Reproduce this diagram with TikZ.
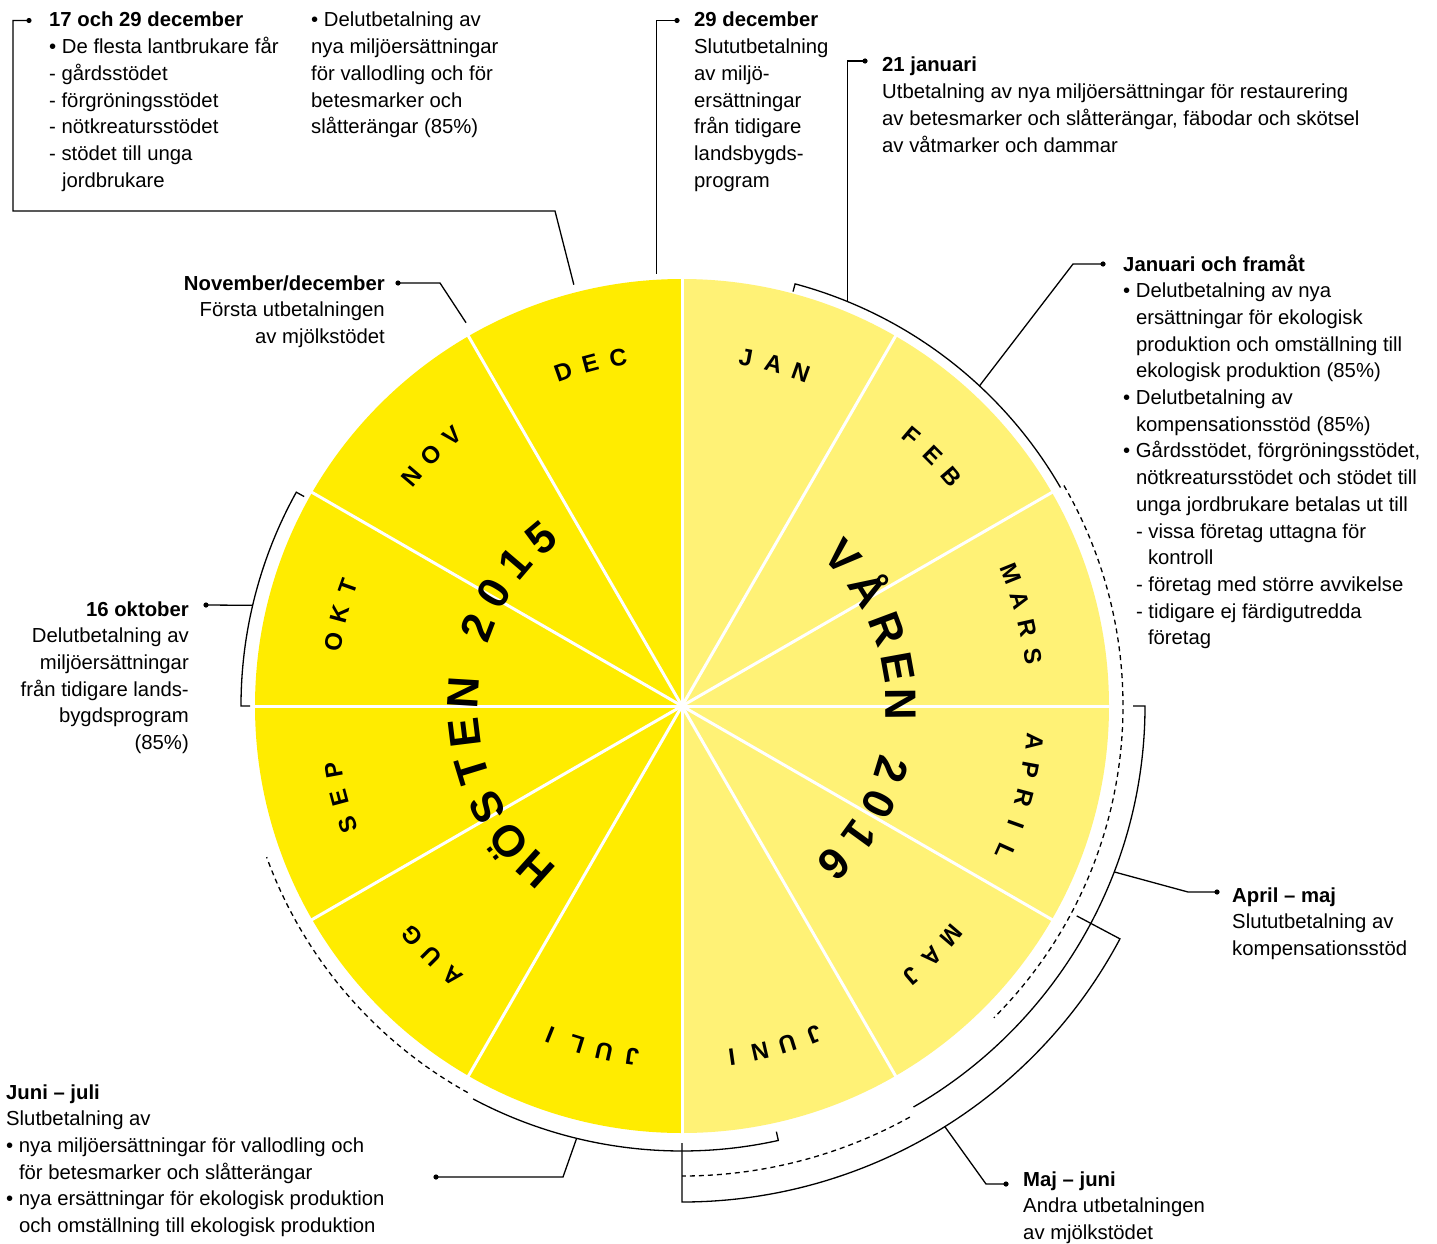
\documentclass[tikz,border=0pt]{standalone}
\usepackage{fontspec}
\setmainfont{Liberation Sans}
\usepackage{xcolor}
\definecolor{autumn}{RGB}{255,236,0}
\definecolor{spring}{RGB}{255,242,118}
\newcommand{\bulletind}{\hspace*{12.8pt}}
\newcommand{\dashind}{\hspace*{24.8pt}}
\tikzset{
    info-text/.style = {inner sep=0pt, anchor=base west, font=\fontsize{20.3}{26.7}\selectfont},
    info-text-right/.style = {info-text, anchor=base east},
    month-letter/.style = {inner sep=0pt, anchor=base, font=\fontsize{24}{24}\selectfont\bfseries},
    season-letter/.style = {inner sep=0pt, anchor=base, font=\fontsize{44}{44}\selectfont\bfseries},
    pay-line/.style = {line width=1.3pt},
    pay-later/.style = {line width=1.3pt, dash pattern=on 5pt off 4pt},
    pin-dot/.style = {fill=black},
}

\begin{document}
\begin{tikzpicture}[x=1pt, y=1pt]
\fill[white] (0,0) rectangle (1437,-1244);
\useasboundingbox (0,0) rectangle (1437,-1244);

\begin{scope}[shift={(682,-706)}]
\fill[autumn] (0,0) -- (90:427) arc[start angle=90, end angle=270, radius=427] -- cycle;
\fill[spring] (0,0) -- (-90:427) arc[start angle=-90, end angle=90, radius=427] -- cycle;
\foreach \a in {0,30,...,330}
    \draw[white, line width=3pt] (0,0) -- (\a:428);

\foreach \letters/\mid/\n [count=\k] in {{J,A,N}/75/3, {F,E,B}/45/3, {M,A,R,S}/15/4, {A,P,R,I,L}/-15/5, {M,A,J}/-45/3, {J,U,N,I}/-75/4, {J,U,L,I}/-105/4, {A,U,G}/-135/3, {S,E,P}/-165/3, {O,K,T}/165/3, {N,O,V}/135/3, {D,E,C}/105/3}{
    \foreach \ch [count=\i] in \letters{
        \node[month-letter, rotate={\mid+((\n+1)/2-\i)*4.6-90}] (month-\k-\i) at ({\mid+((\n+1)/2-\i)*4.6}:346) {\ch};
    }
}

\foreach \ch/\a [count=\i] in {H/228, Ö/218, S/207.5, T/197, E/187, N/176.5, 2/159, 0/149, 1/139.5, 5/130}
    \node[season-letter, rotate=\a-90] (autumn-\i) at (\a:204) {\ch};
\foreach \ch/\a [count=\i] in {V/43, Å/32, R/20.5, E/10.3, N/0.5, 2/-17, 0/-26.5, 1/-36, 6/-46}
    \node[season-letter, rotate=\a-90] (spring-\i) at (\a:204) {\ch};

\draw[pay-line] (75:429) -- (75:437) arc[start angle=75, end angle=30, radius=437];
\draw[pay-later] (30:441) arc[start angle=30, end angle=-45, radius=441];
\draw[pay-line] (0:451) -- (0:463) arc[start angle=0, end angle=-60, radius=463];
\draw[pay-later] (-61:470) arc[start angle=-61, end angle=-90, radius=470];
\draw[pay-line] (-28:447) -- (-28:496) arc[start angle=-28, end angle=-90, radius=496] -- (-90:437);
\draw[pay-line] (-77.5:436) -- (-77.5:445) arc[start angle=-77.5, end angle=-118, radius=445];
\draw[pay-later] (-119:442) arc[start angle=-119, end angle=-160, radius=442];
\draw[pay-line] (151:432) -- (151:441) arc[start angle=151, end angle=180, radius=441] -- (180:432);

\coordinate (end-a) at (104.4:435);
\coordinate (end-c) at (93.4:433);
\coordinate (end-d) at (67.7:437);
\coordinate (end-e) at (47.1:437);
\coordinate (end-f) at (119.4:440);
\coordinate (end-g) at (166.8:441);
\coordinate (end-h) at (-21:463);
\coordinate (end-i) at (-58:496);
\coordinate (end-j) at (-103.7:445);
\end{scope}

\node[info-text] (dec-early) at (49,-27) {\begin{minipage}[t]{280pt}
\textbf{17 och 29 december}\\
• De flesta lantbrukare får\\
- gårdsstödet\\
- förgröningsstödet\\
- nötkreatursstödet\\
- stödet till unga\\
\bulletind jordbrukare
\end{minipage}};
\node[info-text] (dec-part) at (311,-27) {\begin{minipage}[t]{260pt}
• Delutbetalning av\\
nya miljöersättningar\\
för vallodling och för\\
betesmarker och\\
slåtterängar (85\%)
\end{minipage}};
\node[info-text] (dec-final) at (694,-27) {\begin{minipage}[t]{200pt}
\textbf{29 december}\\
Slututbetalning\\
av miljö-\\
ersättningar\\
från tidigare\\
landsbygds-\\
program
\end{minipage}};
\node[info-text] (jan-21) at (882,-72) {\begin{minipage}[t]{540pt}
\textbf{21 januari}\\
Utbetalning av nya miljöersättningar för restaurering\\
av betesmarker och slåtterängar, fäbodar och skötsel\\
av våtmarker och dammar
\end{minipage}};
\node[info-text] (jan-on) at (1123,-271) {\begin{minipage}[t]{330pt}
\textbf{Januari och framåt}\\
• Delutbetalning av nya\\
\bulletind ersättningar för ekologisk\\
\bulletind produktion och omställning till\\
\bulletind ekologisk produktion (85\%)\\
• Delutbetalning av\\
\bulletind kompensationsstöd (85\%)\\
• Gårdsstödet, förgröningsstödet,\\
\bulletind nötkreatursstödet och stödet till\\
\bulletind unga jordbrukare betalas ut till\\
\bulletind - vissa företag uttagna för\\
\dashind kontroll\\
\bulletind - företag med större avvikelse\\
\bulletind - tidigare ej färdigutredda\\
\dashind företag
\end{minipage}};
\node[info-text-right] (nov-dec) at (385,-290) {\begin{minipage}[t]{300pt}\raggedleft
\textbf{November/december}\\
Första utbetalningen\\
av mjölkstödet
\end{minipage}};
\node[info-text-right] (okt-16) at (189,-616) {\begin{minipage}[t]{200pt}\raggedleft
\textbf{16 oktober}\\
Delutbetalning av\\
miljöersättningar\\
från tidigare lands-\\
bygdsprogram\\
(85\%)
\end{minipage}};
\node[info-text] (apr-maj) at (1232,-902) {\begin{minipage}[t]{200pt}
\textbf{April – maj}\\
Slututbetalning av\\
kompensationsstöd
\end{minipage}};
\node[info-text] (maj-jun) at (1023,-1186) {\begin{minipage}[t]{240pt}
\textbf{Maj – juni}\\
Andra utbetalningen\\
av mjölkstödet
\end{minipage}};
\node[info-text] (jun-jul) at (6,-1099) {\begin{minipage}[t]{420pt}
\textbf{Juni – juli}\\
Slutbetalning av\\
• nya miljöersättningar för vallodling och\\
\bulletind för betesmarker och slåtterängar\\
• nya ersättningar för ekologisk produktion\\
\bulletind och omställning till ekologisk produktion
\end{minipage}};

\coordinate (dot-a) at (29,-20.5);
\coordinate (dot-c) at (677,-20.5);
\coordinate (dot-d) at (865,-61);
\coordinate (dot-e) at (1103,-264);
\coordinate (dot-f) at (398,-283);
\coordinate (dot-g) at (206,-605);
\coordinate (dot-h) at (1217,-892);
\coordinate (dot-i) at (1006,-1184);
\coordinate (dot-j) at (436,-1177);
\foreach \d in {a,c,d,e,f,g,h,i,j}
    \fill[pin-dot] (dot-\d) circle[radius=2.6];

\draw[pay-line] (dot-a) -- ++(-16,0) |- (555,-211) -- (end-a);
\draw[pay-line] (dot-c) -| (end-c);
\draw[pay-line] (dot-d) -| (end-d);
\draw[pay-line] (dot-e) -- ++(-30,0) -- (end-e);
\draw[pay-line] (dot-f) -- ++(42,0) -- (end-f);
\draw[pay-line] (dot-g) -- (end-g);
\draw[pay-line] (dot-h) -- ++(-29,0) -- (end-h);
\draw[pay-line] (dot-i) -- ++(-20,0) -- (end-i);
\draw[pay-line] (dot-j) -- ++(127,0) -- (end-j);
\end{tikzpicture}
\end{document}
